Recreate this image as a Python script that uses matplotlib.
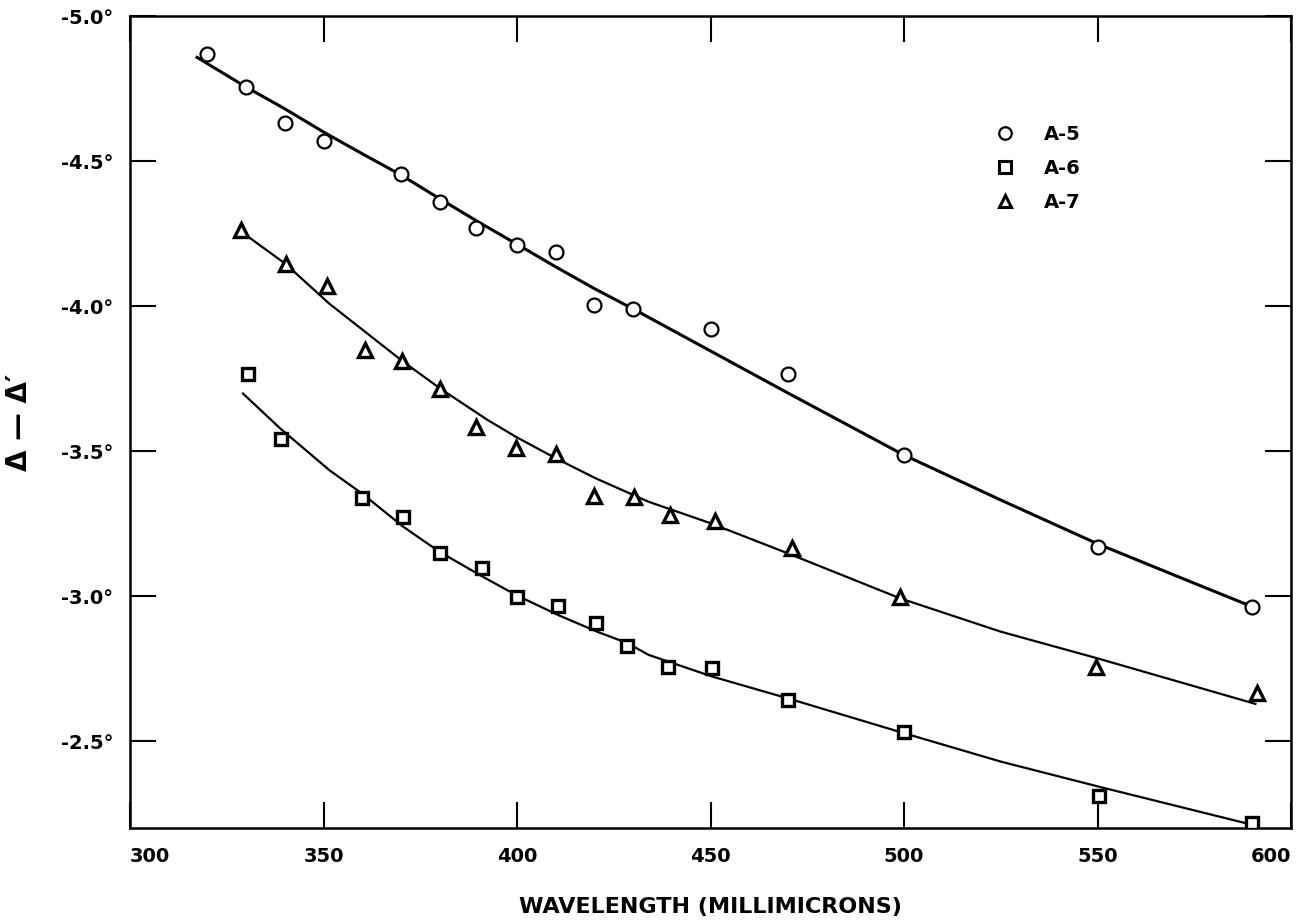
import matplotlib
matplotlib.use("Agg")
import matplotlib.pyplot as plt
from matplotlib.lines import Line2D

# ---- data ----
a5_x = [320, 330, 340, 350, 370, 380, 389.5, 400, 410, 420, 430, 450, 470, 500, 550, 590]
a5_y = [-4.87, -4.755, -4.63, -4.57, -4.455, -4.36, -4.27, -4.21, -4.187, -4.005, -3.988,
        -3.922, -3.764, -3.487, -3.17, -2.963]

a6_x = [330.5, 339, 360, 370.5, 380, 391, 400, 410.5, 420.5, 428.5, 439, 450.5, 470, 500, 550.5, 590]
a6_y = [-3.767, -3.54, -3.337, -3.273, -3.147, -3.096, -2.996, -2.967, -2.906, -2.828,
        -2.756, -2.751, -2.641, -2.532, -2.31, -2.218]

a7_x = [328.6, 340.2, 350.9, 360.6, 370.4, 380.2, 389.4, 399.7, 410, 419.9, 430.2, 439.6,
        451.1, 471, 498.9, 549.5, 591.2]
a7_y = [-4.262, -4.145, -4.07, -3.847, -3.81, -3.715, -3.584, -3.509, -3.49, -3.345, -3.342,
        -3.279, -3.26, -3.164, -2.995, -2.756, -2.664]

# hand-drawn fitted curves
c5_x = [317, 330, 340, 350, 360, 370, 380, 390, 400, 410, 420, 430, 450, 470, 500, 525, 550, 575, 590]
c5_y = [-4.86, -4.755, -4.68, -4.60, -4.525, -4.452, -4.37, -4.29, -4.213, -4.135, -4.06, -3.99,
        -3.845, -3.70, -3.486, -3.331, -3.18, -3.044, -2.963]

c6_x = [329.2, 338.8, 351.5, 359.9, 370.6, 379.9, 391.1, 399.8, 410.7, 420.7, 428.6, 434,
        450.5, 470, 500, 525, 550.5, 590.3]
c6_y = [-3.698, -3.578, -3.434, -3.354, -3.239, -3.153, -3.067, -3.003, -2.934, -2.877, -2.837,
        -2.797, -2.722, -2.647, -2.527, -2.429, -2.342, -2.21]

c7_x = [329.6, 340.2, 351.5, 370.4, 380.2, 392.4, 399.7, 410, 420.3, 434, 450, 470, 499, 525, 550, 590.8]
c7_y = [-4.248, -4.145, -4.008, -3.81, -3.715, -3.607, -3.549, -3.475, -3.406, -3.325, -3.251,
        -3.147, -2.992, -2.877, -2.785, -2.628]

x_ticks = [300, 350, 400, 450, 500, 550, 600]
y_ticks = [-5.0, -4.5, -4.0, -3.5, -3.0, -2.5]
y_tick_labels = ["-5.0°", "-4.5°", "-4.0°", "-3.5°", "-3.0°", "-2.5°"]
series_labels = ["A-5", "A-6", "A-7"]

# ---- figure ----
plt.rcParams['font.family'] = ['DejaVu Sans']
fig = plt.figure(figsize=(13.02, 9.21), dpi=100)
ax = fig.add_axes([130 / 1302, 1 - 828 / 921, (1291 - 130) / 1302, (828 - 16) / 921])

ink = "black"
ax.plot(c5_x, c5_y, color=ink, lw=2.2, solid_capstyle='butt')
ax.plot(c6_x, c6_y, color=ink, lw=1.6)
ax.plot(c7_x, c7_y, color=ink, lw=1.6)

ms = 10
ax.plot(a5_x, a5_y, linestyle='none', marker='o', ms=ms, mfc='white', mec=ink, mew=1.6, zorder=3)
ax.plot(a6_x, a6_y, linestyle='none', marker='s', ms=ms * 0.9, mfc='white', mec=ink, mew=2.4, zorder=3)
ax.plot(a7_x, a7_y, linestyle='none', marker='^', ms=ms * 0.95, mfc='white', mec=ink, mew=2.4, zorder=3)

ax.set_xlim(300, 600)
ax.set_ylim(-2.2, -5.0)

ax.set_xticks(x_ticks)
ax.set_xticklabels([str(v) for v in x_ticks])
ax.set_yticks(y_ticks)
ax.set_yticklabels(y_tick_labels)

ax.tick_params(axis='both', direction='in', length=19, width=1.5, top=True, right=True,
               labelsize=14)
ax.tick_params(axis='x', pad=14)
ax.tick_params(axis='y', pad=12)
for lab in ax.get_xticklabels() + ax.get_yticklabels():
    lab.set_fontweight('bold')
xlabs = ax.get_xticklabels()
xlabs[0].set_horizontalalignment('left')
xlabs[-1].set_horizontalalignment('right')

for sp in ax.spines.values():
    sp.set_linewidth(1.8)
    sp.set_color(ink)

ax.set_xlabel("WAVELENGTH (MILLIMICRONS)", fontsize=16, fontweight='bold', labelpad=22)
ax.set_ylabel("Δ — Δ′", fontsize=20, fontweight='bold', labelpad=20)

handles = [
    Line2D([], [], linestyle='none', marker='o', ms=ms * 0.9, mfc='white', mec=ink, mew=1.6),
    Line2D([], [], linestyle='none', marker='s', ms=ms * 0.85, mfc='white', mec=ink, mew=2.2),
    Line2D([], [], linestyle='none', marker='^', ms=ms * 0.85, mfc='white', mec=ink, mew=2.2),
]
leg = ax.legend(handles, series_labels, loc='upper left', bbox_to_anchor=(0.737, 0.878),
                frameon=False, handlelength=1.0, handletextpad=1.5, labelspacing=0.78,
                borderpad=0.0, prop={'size': 14, 'weight': 'bold'})

fig.savefig("out.png", dpi=100, facecolor='white')
